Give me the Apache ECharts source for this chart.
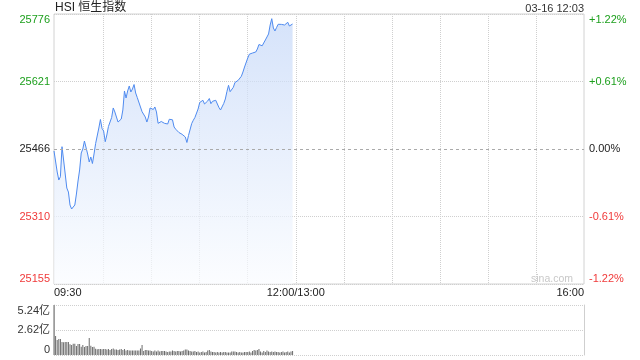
<!DOCTYPE html>
<html><head><meta charset="utf-8">
<script src="https://cdn.jsdelivr.net/npm/echarts@6/dist/echarts.min.js"></script>
<style>html,body{margin:0;padding:0;background:#fff}#c{width:640px;height:360px}</style>
</head><body><div id="c"></div>
<script>
const prevClose = 25466;
const rangePct = 0.0122;
const priceTickLabels = ['25155', '25310', '25466', '25621', '25776'];
const pctTickLabels = ['-1.22%', '-0.61%', '0.00%', '+0.61%', '+1.22%'];
const gridTickValues = [60, 90, 120, 150, 180, 210, 240, 270, 300, 330];
const timeTickValues = [29, 180, 360];
const timeTickLabels = ['09:30', '12:00/13:00', '16:00'];
const firstMinute = 29;
const volTickLabels = ['0', '2.62亿', '5.24亿'];
const volMax = 5.24;

const prices = [
25461.4, 25461.4, 25413.1, 25394.6, 25402.2, 25471.3, 25440.7, 25408.5, 25376.2, 25367.0,
25337.1, 25327.9, 25327.2, 25337.1, 25362.4, 25392.3, 25417.7, 25456.8, 25466.0, 25484.4,
25483.3, 25454.5, 25436.1, 25447.6, 25432.6, 25454.5, 25478.7, 25482.1, 25514.3, 25533.9,
25513.2, 25507.4, 25482.8, 25498.2, 25517.8, 25518.9, 25538.5, 25560.4, 25551.2, 25539.6,
25528.1, 25530.4, 25535.0, 25555.8, 25599.5, 25583.4, 25599.5, 25611.0, 25597.2, 25604.1,
25614.4, 25594.9, 25584.5, 25579.9, 25562.7, 25551.8, 25550.0, 25539.6, 25528.1, 25539.6,
25560.4, 25561.5, 25556.9, 25562.7, 25551.2, 25525.1, 25525.8, 25529.3, 25533.9, 25525.1,
25525.1, 25523.5, 25534.4, 25537.8, 25533.2, 25516.6, 25511.6, 25509.7, 25504.0, 25500.5,
25499.8, 25498.7, 25493.6, 25481.0, 25497.1, 25500.5, 25524.7, 25532.1, 25538.5, 25541.9,
25558.1, 25573.0, 25577.6, 25578.1, 25569.6, 25567.3, 25576.5, 25582.2, 25570.3, 25575.8,
25578.1, 25578.1, 25574.6, 25561.5, 25555.8, 25560.4, 25570.7, 25581.1, 25598.3, 25612.6,
25597.9, 25598.8, 25608.0, 25619.0, 25622.0, 25623.9, 25627.1, 25633.3, 25643.2, 25654.7,
25659.3, 25675.4, 25684.2, 25688.1, 25686.9, 25690.9, 25689.2, 25696.1, 25706.5, 25703.1,
25703.5, 25705.4, 25716.9, 25723.8, 25730.7, 25751.4, 25765.9, 25744.5, 25737.6, 25745.6,
25753.0, 25751.4, 25752.8, 25754.8, 25751.4, 25753.9, 25757.6, 25749.1, 25747.7, 25753.7
];

const volumes = [
5.24, 1.99, 1.57, 1.68, 1.68, 1.36, 1.33, 1.36, 1.36, 1.36,
1.12, 1.05, 1.18, 1.18, 0.94, 1.15, 1.15, 0.87, 1.05, 0.84,
0.94, 0.94, 1.78, 0.97, 0.84, 0.87, 0.66, 0.60, 0.63, 0.63,
0.60, 0.63, 0.63, 0.58, 0.63, 0.52, 0.63, 0.68, 0.58, 0.58,
0.52, 0.58, 0.63, 0.52, 0.63, 0.47, 0.52, 0.47, 0.47, 0.47,
0.47, 0.47, 0.47, 0.47, 0.68, 1.05, 0.42, 0.52, 0.52, 0.47,
0.47, 0.42, 0.37, 0.47, 0.37, 0.47, 0.37, 0.42, 0.42, 0.42,
0.37, 0.31, 0.37, 0.37, 0.47, 0.42, 0.37, 0.42, 0.42, 0.37,
0.42, 0.47, 0.58, 0.58, 0.47, 0.42, 0.37, 0.37, 0.42, 0.31,
0.37, 0.26, 0.31, 0.37, 0.26, 0.31, 0.47, 0.52, 0.37, 0.31,
0.31, 0.26, 0.31, 0.26, 0.31, 0.26, 0.31, 0.31, 0.26, 0.26,
0.26, 0.37, 0.37, 0.37, 0.31, 0.26, 0.31, 0.26, 0.26, 0.31,
0.31, 0.31, 0.37, 0.26, 0.42, 0.52, 0.47, 0.52, 0.63, 0.37,
0.26, 0.42, 0.31, 0.47, 0.37, 0.31, 0.37, 0.31, 0.37, 0.31,
0.31, 0.26, 0.31, 0.37, 0.26, 0.31, 0.37, 0.26, 0.37, 0.42
];

const FONT = '"Liberation Sans", Arial, "Noto Sans CJK SC", sans-serif';
const UP = '#1c9f1c', DOWN = '#f03a3a', FLAT = '#222';
const GRIDC = '#cfcfcf';
const TR = 'rgba(0,0,0,0)';

const chart = echarts.init(document.getElementById('c'), null, {renderer: 'canvas'});

function levelColor(v) {
  const n = Number(v);
  return n > 2 ? UP : (n < 2 ? DOWN : FLAT);
}

chart.setOption({
  animation: false,
  backgroundColor: '#fff',
  textStyle: {fontFamily: FONT},
  grid: [
    {left: 54, top: 14, width: 530, height: 270, show: true, borderColor: '#d2d2d2', borderWidth: 1, backgroundColor: TR},
    {left: 54, top: 305, width: 530, height: 50}
  ],
  xAxis: [
    {
      gridIndex: 0, type: 'value', min: 29, max: 360,
      axisLine: {show: false},
      axisTick: {show: false, customValues: gridTickValues},
      splitLine: {show: true, lineStyle: {color: GRIDC, type: 'dotted', width: 1}},
      axisLabel: {
        show: true, customValues: timeTickValues, showMinLabel: true, showMaxLabel: true,
        alignMinLabel: 'left', alignMaxLabel: 'right',
        margin: 3, fontSize: 11, color: '#222', fontFamily: FONT,
        formatter: function (v) { const k = timeTickValues.indexOf(Math.round(v)); return k >= 0 ? timeTickLabels[k] : ''; }
      }
    },
    {gridIndex: 1, type: 'value', min: 29, max: 360, show: false}
  ],
  yAxis: [
    {gridIndex: 0, type: 'value', min: prevClose * (1 - rangePct), max: prevClose * (1 + rangePct), show: false},
    {
      gridIndex: 0, type: 'value', min: 0, max: 4, interval: 1, position: 'left',
      axisLine: {show: false}, axisTick: {show: false},
      splitLine: {show: true, lineStyle: {type: 'dotted', color: [GRIDC, GRIDC, TR, GRIDC, GRIDC]}},
      axisLabel: {
        margin: 4, fontSize: 11, fontFamily: FONT, showMinLabel: true, showMaxLabel: true,
        verticalAlignMinLabel: 'bottom', verticalAlignMaxLabel: 'top',
        formatter: function (v) { return priceTickLabels[Math.round(v)]; },
        color: levelColor
      }
    },
    {
      gridIndex: 0, type: 'value', min: 0, max: 4, interval: 1, position: 'right',
      axisLine: {show: false}, axisTick: {show: false}, splitLine: {show: false},
      axisLabel: {
        margin: 5, fontSize: 11, fontFamily: FONT, showMinLabel: true, showMaxLabel: true,
        verticalAlignMinLabel: 'bottom', verticalAlignMaxLabel: 'top',
        formatter: function (v) { return pctTickLabels[Math.round(v)]; },
        color: levelColor
      }
    },
    {
      gridIndex: 1, type: 'value', min: 0, max: volMax, interval: volMax / 2, position: 'left',
      axisLine: {show: true, lineStyle: {color: GRIDC}}, axisTick: {show: false},
      splitLine: {show: true, lineStyle: {type: 'dotted', color: GRIDC}},
      axisLabel: {
        margin: 4, fontSize: 11, color: '#333', fontFamily: FONT, showMinLabel: true, showMaxLabel: true,
        verticalAlignMinLabel: 'bottom', verticalAlignMaxLabel: 'top',
        formatter: function (v) { return volTickLabels[Math.round(v / (volMax / 2))]; }
      }
    },
    {
      gridIndex: 1, type: 'value', min: 0, max: 1, position: 'right',
      axisLine: {show: true, lineStyle: {color: GRIDC}}, axisTick: {show: false},
      axisLabel: {show: false}, splitLine: {show: false}
    }
  ],
  series: [
    {
      type: 'line', xAxisIndex: 0, yAxisIndex: 0,
      data: prices.map(function (p, i) { return [firstMinute + i, p]; }),
      symbol: 'none', showSymbol: false, smooth: false,
      lineStyle: {color: '#4f8bf0', width: 1},
      areaStyle: {
        color: {type: 'linear', x: 0, y: 0, x2: 0, y2: 1, colorStops: [
          {offset: 0, color: 'rgba(196,215,248,1)'},
          {offset: 1, color: 'rgba(250,252,255,1)'}
        ]}
      },
      markLine: {
        silent: true, symbol: 'none', label: {show: false},
        lineStyle: {color: '#aaa', type: [3, 3], width: 1},
        data: [{yAxis: prevClose}]
      },
      z: 3
    },
    {
      type: 'bar', xAxisIndex: 1, yAxisIndex: 3,
      data: volumes.map(function (v, i) { return [firstMinute + i, v]; }),
      barWidth: 1, itemStyle: {color: '#6a6a6a'}
    }
  ],
  graphic: [
    {type: 'text', x: 55, y: 8, style: {text: 'HSI 恒生指数', fill: '#222', font: '12px ' + FONT, align: 'left', verticalAlign: 'middle'}},
    {type: 'text', x: 584, y: 9, style: {text: '03-16 12:03', fill: '#333', font: '11px ' + FONT, align: 'right', verticalAlign: 'middle'}},
    {type: 'text', x: 531, y: 279, style: {text: 'sina.com', fill: '#c8c8c8', font: '10.5px ' + FONT, align: 'left', verticalAlign: 'middle'}}
  ]
});
</script>
</body></html>
